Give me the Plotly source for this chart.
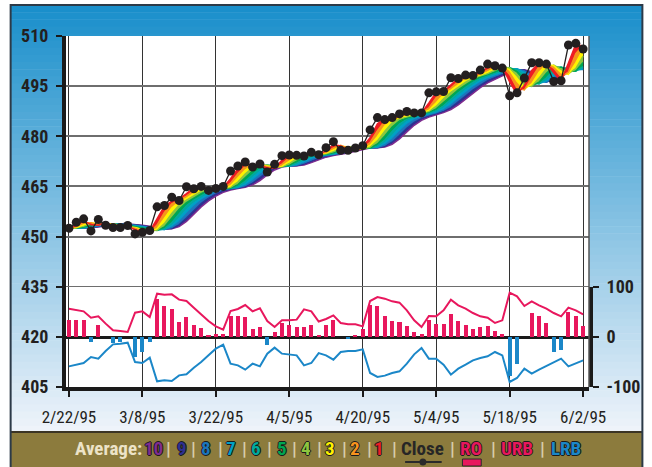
import plotly.graph_objects as go

# ---------------- data ----------------
tick_dates = ["2/22/95", "3/8/95", "3/22/95", "4/5/95", "4/20/95", "5/4/95", "5/18/95", "6/2/95"]
tick_index = [0, 10, 20, 30, 40, 50, 60, 70]

close = [452.5, 454.3, 455.3, 451.7, 455.1, 453.4, 452.7, 452.7, 453.3, 450.8,
         451.3, 451.8, 458.9, 459.3, 461.8, 460.8, 464.9, 464.3, 465.0, 463.8,
         464.4, 465.0, 469.6, 471.1, 472.3, 470.8, 471.7, 469.3, 471.6, 474.2,
         474.4, 474.3, 474.1, 475.2, 474.5, 476.6, 478.4, 475.8, 475.8, 476.5,
         477.2, 481.9, 485.6, 485.0, 485.6, 486.7, 487.4, 487.0, 487.0, 493.0,
         493.3, 493.4, 497.5, 497.3, 498.3, 498.2, 499.8, 501.6, 501.1, 500.4,
         492.1, 493.0, 497.4, 502.0, 502.0, 501.6, 496.4, 496.6, 507.3, 507.8, 506.1]

ro = [34.7, 34.7, 33.3, -10, 23.3, 0, -11, -10, 0, -40,
      -30, -10, 75.3, 61.3, 55.3, 30, 39.3, 23.3, 17.3, 3.3,
      5.3, 5.3, 41.3, 41.3, 39.3, 16, 19.3, -16.7, 10, 27.3,
      23.3, 19.3, 19.3, 23.3, 3.3, 23.3, 33.3, 0, -3, 3.3,
      15.3, 63.3, 61.3, 41.3, 32, 29.3, 21.3, 9.3, 5.3, 33.3,
      26.7, 26.7, 45.3, 32, 24.7, 16.7, 19.3, 21.3, 11.3, 5.3,
      -78.7, -54.7, 0, 47.3, 41.3, 27.3, -30, -25.3, 49.3, 41.3, 21.3]

urb = [56.7, 53.3, 51.3, 38.7, 41.3, 26.7, 13.3, 12, 10, 48.7,
       51.3, 40, 86.7, 84.7, 85.3, 74.7, 72, 58.7, 45.3, 32,
       21.3, 14.7, 52, 56, 64, 51.3, 57.3, 32, 20, 33.3,
       33.3, 34.7, 55.3, 51.3, 31, 36, 43.3, 28, 25.3, 25.3,
       21.3, 72, 80, 76.7, 71.3, 68.7, 53.3, 33.3, 20, 42,
       41.3, 53.3, 74.7, 63.3, 56.7, 48, 41.3, 38.7, 28, 33.3,
       88.7, 81.3, 62, 71.3, 63.3, 56.7, 48, 41.3, 58.7, 53.3, 45.3]

lrb = [-58.7, -54.7, -52, -40, -43.3, -28, -14.7, -13.3, -11.3, -50,
       -52, -41.3, -88.7, -86.7, -88, -76.7, -74.7, -61.3, -50, -36.7,
       -23.3, -15.3, -53.3, -56.7, -65.3, -53.3, -58.7, -33.3, -21.3, -33.3,
       -34.7, -36.7, -56.7, -52, -32.3, -36.7, -45.3, -30, -28, -28,
       -24.7, -72, -80, -77.3, -72, -68.7, -53.3, -34.7, -22, -43.3,
       -43.3, -55.3, -75.3, -63.3, -55.3, -46.7, -42, -38.7, -30, -36.7,
       -90, -82, -63.3, -73.3, -65.3, -58, -50, -43.3, -58.7, -53.3, -46.7]

avg_labels = ["1", "2", "3", "4", "5", "6", "7", "8", "9", "10"]
avg_colors = ["#ed1c24", "#f7941d", "#fff200", "#8dc63f", "#00a651",
              "#00a99d", "#00a0c6", "#1c75bc", "#2e3192", "#7f2c8f"]

# ---------------- rainbow averages (recursive 2-period SMA of close) ----------------
def sma2(seq):
    out = [seq[0]]
    for i in range(1, len(seq)):
        out.append((seq[i] + seq[i - 1]) / 2.0)
    return out

averages = []
cur = close
for _ in range(10):
    cur = sma2(cur)
    averages.append(cur)

idx = list(range(len(close)))

FONT = "Liberation Sans Narrow, Roboto Condensed, DejaVu Sans Condensed, Arial Narrow, sans-serif"
RED = "#e8175d"
BLUE = "#1b87c8"

fig = go.Figure()

# rainbow: draw average 10 first, then fill each next one down to the previous
for k in range(9, -1, -1):
    fig.add_trace(go.Scatter(
        x=idx, y=averages[k], mode="lines",
        line=dict(color=avg_colors[k], width=1.5),
        fill=None if k == 9 else "tonexty",
        fillcolor=avg_colors[k],
        hoverinfo="skip", showlegend=False, xaxis="x", yaxis="y"))

fig.add_trace(go.Scatter(
    x=idx, y=close, mode="lines+markers",
    line=dict(color="#231f20", width=1.3),
    marker=dict(color="#231f20", size=9),
    showlegend=False, xaxis="x", yaxis="y"))

# oscillator panel
fig.add_trace(go.Bar(
    x=idx, y=ro, width=0.55,
    marker=dict(color=[RED if v >= 0 else BLUE for v in ro], line=dict(width=0)),
    showlegend=False, xaxis="x", yaxis="y2"))
fig.add_trace(go.Scatter(x=idx, y=urb, mode="lines", line=dict(color=RED, width=2),
                         showlegend=False, xaxis="x", yaxis="y2"))
fig.add_trace(go.Scatter(x=idx, y=lrb, mode="lines", line=dict(color=BLUE, width=2),
                         showlegend=False, xaxis="x", yaxis="y2"))

# ---------------- layout helpers (pixel -> paper) ----------------
L, R, T, B = 66, 595, 36, 387
W, H = 652, 467


def px(X):
    return (X - L) / (R - L)


def py(Y):
    return (B - Y) / (B - T)


def lerp(c1, c2, t):
    a = [int(c1[i:i + 2], 16) for i in (1, 3, 5)]
    b = [int(c2[i:i + 2], 16) for i in (1, 3, 5)]
    return "#" + "".join("%02x" % round(a[j] + (b[j] - a[j]) * t) for j in range(3))


shapes = []
top_c, bot_c = "#1a8fcb", "#eef3fa"
N = 60
y_start, y_end = 5, 433
for k in range(N):
    Y0 = y_start + (y_end - y_start) * k / N
    Y1 = y_start + (y_end - y_start) * (k + 1) / N + 0.6
    shapes.append(dict(type="rect", xref="paper", yref="paper", layer="below",
                       x0=px(10), x1=px(649), y0=py(Y1), y1=py(Y0),
                       fillcolor=lerp(top_c, bot_c, k / (N - 1)), line=dict(width=0)))
# olive legend band
shapes.append(dict(type="rect", xref="paper", yref="paper", layer="below",
                   x0=px(10), x1=px(649), y0=py(475), y1=py(432),
                   fillcolor="#8c7b3d", line=dict(width=0)))
shapes.append(dict(type="line", xref="paper", yref="paper", layer="below",
                   x0=px(10), x1=px(649), y0=py(432), y1=py(432),
                   line=dict(color="#3b3424", width=2)))
# outer frame
shapes.append(dict(type="rect", xref="paper", yref="paper", layer="below",
                   x0=px(10), x1=px(649), y0=py(475), y1=py(5),
                   fillcolor="rgba(0,0,0,0)", line=dict(color="#2c3a48", width=2)))
# white plotting area
shapes.append(dict(type="rect", xref="paper", yref="paper", layer="below",
                   x0=0, x1=1, y0=0, y1=1, fillcolor="white", line=dict(width=0)))
# right edge thin line
shapes.append(dict(type="line", xref="paper", yref="paper", layer="above",
                   x0=1, x1=1, y0=0, y1=1, line=dict(color="#555555", width=1.5)))
# legend symbols: Close (line + dot), RO (box)
shapes.append(dict(type="line", xref="paper", yref="paper",
                   x0=px(409), x1=px(446), y0=py(462), y1=py(462),
                   line=dict(color="#2a2a2a", width=2)))
shapes.append(dict(type="circle", xref="paper", yref="paper",
                   x0=px(423.5), x1=px(430.5), y0=py(465.5), y1=py(458.5),
                   fillcolor="#2a2a2a", line=dict(width=0)))
shapes.append(dict(type="rect", xref="paper", yref="paper",
                   x0=px(467), x1=px(486), y0=py(466), y1=py(459),
                   fillcolor=RED, line=dict(color="#2a2a2a", width=1)))

# ---------------- legend text ----------------
OUT = "1px 0 0 #1a1a1a, -1px 0 0 #1a1a1a, 0 1px 0 #1a1a1a, 0 -1px 0 #1a1a1a"
SEP = "#d8cdaa"
legend_items = [
    ("Average:", 109, "#ece3c8", "none"),
    ("10", 155, avg_colors[9], OUT), ("|", 170, SEP, "none"),
    ("9", 183, avg_colors[8], OUT), ("|", 195, SEP, "none"),
    ("8", 208, avg_colors[7], OUT), ("|", 222, SEP, "none"),
    ("7", 233, avg_colors[6], OUT), ("|", 247, SEP, "none"),
    ("6", 258, avg_colors[5], OUT), ("|", 272, SEP, "none"),
    ("5", 284, avg_colors[4], OUT), ("|", 297, SEP, "none"),
    ("4", 309, avg_colors[3], OUT), ("|", 322, SEP, "none"),
    ("3", 333, avg_colors[2], OUT), ("|", 348, SEP, "none"),
    ("2", 358, avg_colors[1], OUT), ("|", 373, SEP, "none"),
    ("1", 383, avg_colors[0], OUT), ("|", 398, SEP, "none"),
    ("Close", 427, "#262626", "none"), ("|", 457, SEP, "none"),
    ("RO", 476, RED, OUT), ("|", 498, SEP, "none"),
    ("URB", 522, RED, OUT), ("|", 548, SEP, "none"),
    ("LRB", 572, BLUE, OUT),
]
annotations = []
for text, xc, col, sh in legend_items:
    annotations.append(dict(
        text=text, xref="paper", yref="paper", x=px(xc), y=py(448),
        xanchor="center", yanchor="middle", showarrow=False,
        font=dict(family=FONT, size=19, color=col, weight="bold", shadow=sh)))

fig.update_layout(
    width=W, height=H,
    margin=dict(l=L, r=W - R, t=T, b=H - B, pad=0),
    paper_bgcolor="white", plot_bgcolor="white",
    showlegend=False, bargap=0,
    shapes=shapes, annotations=annotations,
    xaxis=dict(
        range=[-0.4, 70.8], tickvals=tick_index, ticktext=tick_dates,
        showgrid=True, gridcolor="#333333", gridwidth=1.2, zeroline=False,
        showline=True, linecolor="#1a1a1a", linewidth=4,
        ticks="outside", ticklen=6, tickwidth=2, tickcolor="#1a1a1a",
        ticklabelstandoff=6,
        tickfont=dict(family=FONT, size=17, color="#231f20"),
        anchor="y", fixedrange=True),
    yaxis=dict(
        range=[405, 510], tickvals=[405, 420, 435, 450, 465, 480, 495, 510],
        showgrid=True, gridcolor="#6e6e6e", gridwidth=1.5, zeroline=False,
        showline=True, linecolor="#1a1a1a", linewidth=4,
        ticks="outside", ticklen=6, tickwidth=2, tickcolor="#1a1a1a",
        ticklabelstandoff=4,
        tickfont=dict(family=FONT, size=18, color="#231f20", weight="bold"),
        domain=[0, 1], anchor="x", fixedrange=True),
    yaxis2=dict(
        range=[-100, 100], tickvals=[-100, 0, 100], ticktext=["-100", "0", "100"],
        domain=[0, py(287)], anchor="x", side="right",
        showgrid=False, zeroline=True, zerolinecolor="#1a1a1a", zerolinewidth=3,
        showline=True, linecolor="#1a1a1a", linewidth=4,
        ticks="outside", ticklen=6, tickwidth=2, tickcolor="#1a1a1a",
        ticklabelstandoff=4,
        tickfont=dict(family=FONT, size=18, color="#231f20", weight="bold"),
        fixedrange=True),
)

fig.write_html("out.html", config={"displayModeBar": False},
               post_script="document.body.style.margin='0px';")
